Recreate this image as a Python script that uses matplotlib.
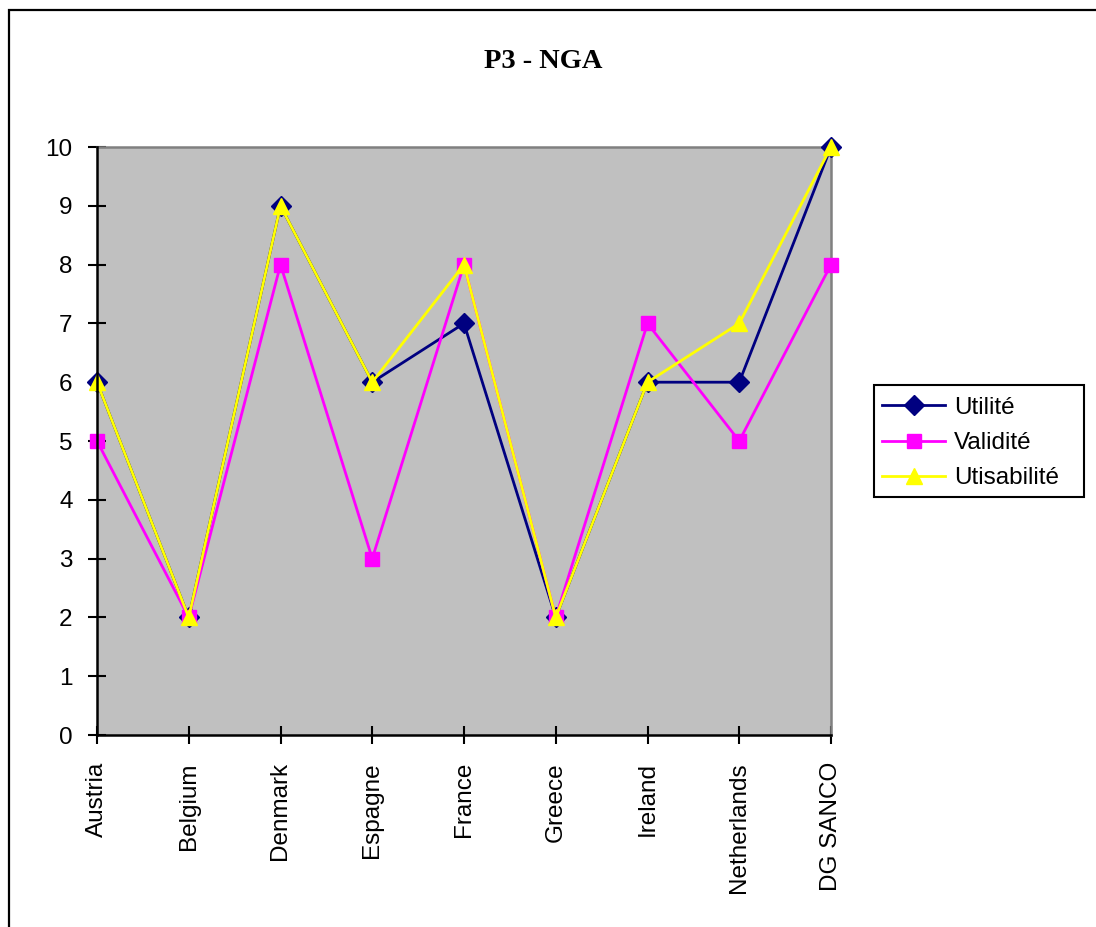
import matplotlib
matplotlib.use("Agg")
import matplotlib.pyplot as plt
from matplotlib.patches import Rectangle

# Chart data
countries = ["Austria", "Belgium", "Denmark", "Espagne", "France",
             "Greece", "Ireland", "Netherlands", "DG SANCO"]
utilite = [6, 2, 9, 6, 7, 2, 6, 6, 10]
validite = [5, 2, 8, 3, 8, 2, 7, 5, 8]
utisabilite = [6, 2, 9, 6, 8, 2, 6, 7, 10]
y_ticks = list(range(0, 11))

plt.rcParams["font.family"] = ["Liberation Sans", "DejaVu Sans"]

W, H = 1096, 927
fig = plt.figure(figsize=(W / 100, H / 100), dpi=100)
ax = fig.add_axes([97 / W, 1 - 735 / H, (831 - 97) / W, (735 - 147) / H])
ax.set_facecolor("#C0C0C0")

x = list(range(len(countries)))
ax.plot(x, utilite, color="#000080", lw=2, marker="D", ms=10,
        markeredgecolor="#000080", label="Utilité", clip_on=False, zorder=3)
ax.plot(x, validite, color="#FF00FF", lw=2, marker="s", ms=10,
        markeredgecolor="#FF00FF", label="Validité", clip_on=False, zorder=4)
ax.plot(x, utisabilite, color="#FFFF00", lw=2, marker="^", ms=12,
        markeredgecolor="#FFFF00", label="Utisabilité", clip_on=False, zorder=5)

ax.set_xlim(0, len(countries) - 1)
ax.set_ylim(0, 10)
ax.set_yticks(y_ticks)
ax.set_xticks(x)
ax.set_xticklabels(countries, rotation=90, va="top", ha="center")
ax.tick_params(axis="both", direction="inout", length=13, width=1.5,
               labelsize=17.5, color="black")
ax.tick_params(axis="x", pad=13)
ax.tick_params(axis="y", pad=11)

for side in ("left", "bottom"):
    ax.spines[side].set_color("black")
    ax.spines[side].set_linewidth(1.8)
    ax.spines[side].set_zorder(6)
for side in ("top", "right"):
    ax.spines[side].set_color("#808080")
    ax.spines[side].set_linewidth(1.8)

fig.text(543 / W, 1 - 61 / H, "P3 - NGA", ha="center", va="center",
         fontsize=20.5, fontweight="bold", family=["Liberation Serif", "DejaVu Serif"])

# Legend entries, with a separate box drawn around them
fig.legend(loc="center left", bbox_to_anchor=(882 / W, 1 - 443 / H),
           fontsize=17.5, frameon=False, handlelength=2.6, handletextpad=0.35,
           borderpad=0, labelspacing=0.55, borderaxespad=0)
fig.patches.append(Rectangle((874 / W, 1 - 497 / H), (1084 - 874) / W, (497 - 385) / H,
                             transform=fig.transFigure, fill=False,
                             edgecolor="black", lw=1.5))

# Outer chart border
fig.patches.append(Rectangle((9 / W, -0.05), 1.1, 1 - 10 / H + 0.05,
                             transform=fig.transFigure, fill=False,
                             edgecolor="black", lw=1.6))

fig.savefig("out.png", dpi=100)
